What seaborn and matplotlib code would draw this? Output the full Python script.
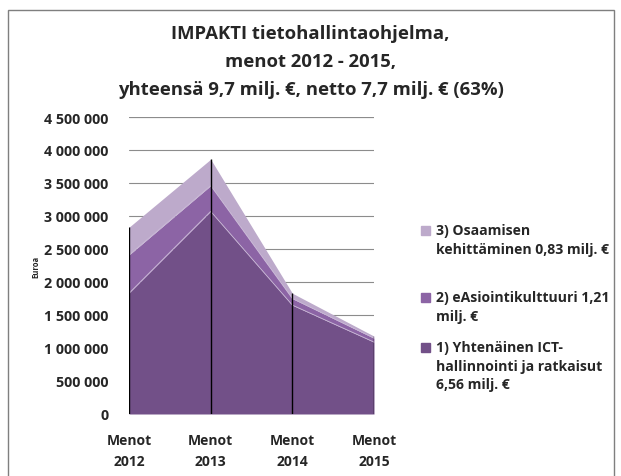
import numpy as np
import pandas as pd
import matplotlib
matplotlib.use("Agg")
import matplotlib.pyplot as plt
import seaborn as sns
from matplotlib.patches import Rectangle

# data (euros per year)
vuodet = ["Menot\n2012", "Menot\n2013", "Menot\n2014", "Menot\n2015"]
ict = [1830000, 3070000, 1650000, 1090000]
easiointi = [580000, 390000, 100000, 60000]
osaaminen = [420000, 400000, 80000, 30000]
sarjat = ["1) Yhtenäinen ICT-\nhallinnointi ja ratkaisut\n6,56 milj. €",
          "2) eAsiointikulttuuri 1,21\nmilj. €",
          "3) Osaamisen\nkehittäminen 0,83 milj. €"]
varit = ["#725088", "#8C64A5", "#BDAACB"]
yticks = np.arange(0, 4500001, 500000)

sns.set_theme(style="white")
plt.rcParams['font.family'] = ['Open Sans', 'DejaVu Sans']

df = pd.DataFrame({"x": np.arange(len(vuodet)), sarjat[0]: ict,
                   sarjat[1]: easiointi, sarjat[2]: osaaminen})

fig = plt.figure(figsize=(6.21, 4.77), dpi=100)
ax = fig.add_axes([129 / 621, 1 - 415 / 477, 245 / 621, 297 / 477])

ax.stackplot(df["x"], df[sarjat[0]], df[sarjat[1]], df[sarjat[2]],
             colors=varit, linewidth=0)
cum = df[sarjat].cumsum(axis=1)
for s in sarjat[:2]:
    sns.lineplot(x=df["x"], y=cum[s], ax=ax, color="#C9B8D6", lw=0.6)
ax.vlines(df["x"], 0, cum[sarjat[2]], color="black", lw=1, zorder=3)

ax.set_xlim(0, len(vuodet) - 1)
ax.set_ylim(0, 4500000)
ax.set_yticks(yticks)
ax.set_yticklabels([f"{v:,}".replace(",", " ") for v in yticks],
                   fontsize=10.3, fontweight="bold")
ax.set_xticks(df["x"])
ax.set_xticklabels(vuodet, fontsize=10, fontweight="bold", linespacing=1.6)
ax.tick_params(axis="y", pad=15, length=0)
ax.tick_params(axis="x", pad=14, length=0)
ax.yaxis.grid(True, color="#8C8C8C", lw=0.8)
ax.set_axisbelow(True)
for side in ["top", "right", "left", "bottom"]:
    ax.spines[side].set_visible(False)
ax.axhline(4500000, color="#8C8C8C", lw=0.8)
ax.set_xlabel("")
ax.set_ylabel("Euroa", fontsize=5.5, fontweight="bold")
ax.yaxis.set_label_coords(-0.36, 0.5)

fig.text(0.5, 1 - 62 / 477,
         "IMPAKTI tietohallintaohjelma,\nmenot 2012 - 2015,\n"
         "yhteensä 9,7 milj. €, netto 7,7 milj. € (63%)",
         ha="center", va="center", fontsize=13.3, fontweight="bold",
         linespacing=1.68)

# legend drawn by hand, markers at the first line of each entry
leg_y = [232, 299, 349]
for lab, col, y in zip(sarjat[::-1], varit[::-1], leg_y):
    fig.patches.append(Rectangle((421 / 621, 1 - (y + 4) / 477), 9 / 621, 9 / 477,
                                 transform=fig.transFigure, color=col))
    fig.text(436 / 621, 1 - (y - 8) / 477, lab, ha="left", va="top",
             fontsize=10.1, fontweight="bold", linespacing=1.42)

fig.patches.append(Rectangle((8 / 621, -0.05), 606 / 621, 1.05 - 11 / 477,
                             transform=fig.transFigure, fill=False,
                             edgecolor="#7F7F7F", lw=1))

fig.savefig("out.png", dpi=100)
